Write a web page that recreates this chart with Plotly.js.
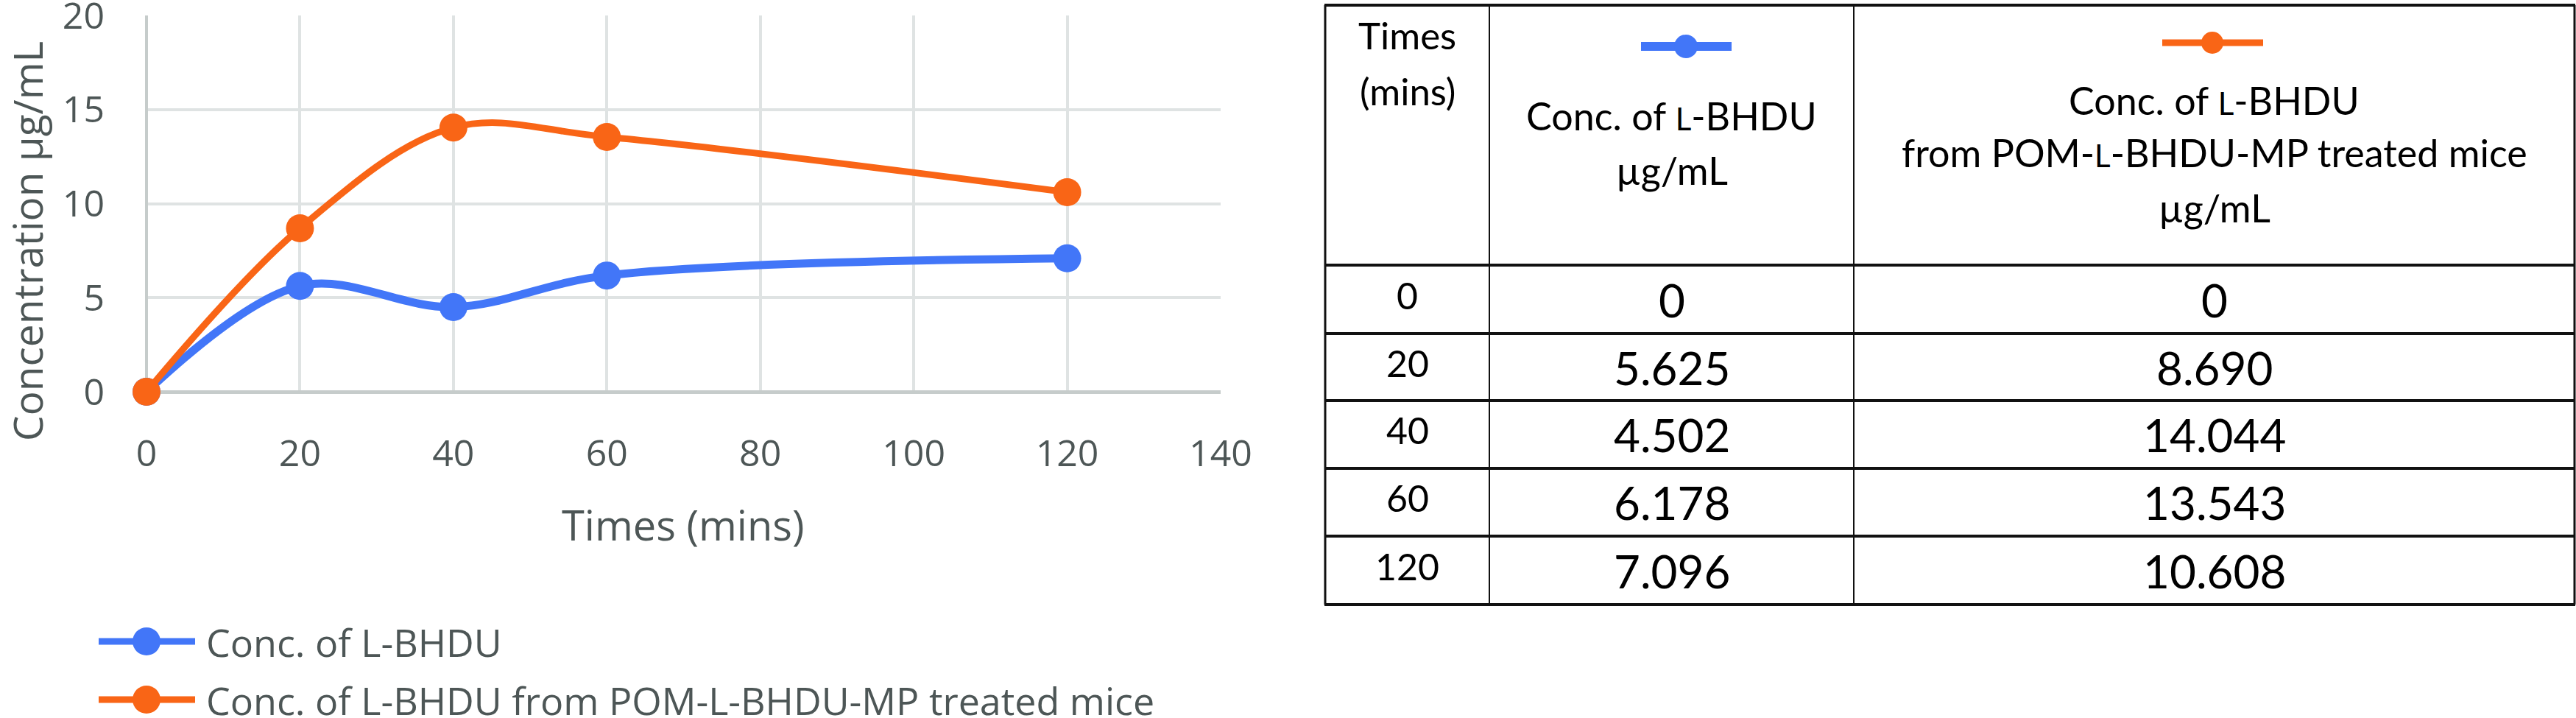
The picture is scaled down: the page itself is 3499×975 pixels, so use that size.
<!DOCTYPE html>
<html><head><meta charset="utf-8">
<script src="https://cdn.plot.ly/plotly-3.0.1.min.js"></script>
<style>html,body{margin:0;padding:0;background:#fff;}#chart{width:3499px;height:975px;}</style>
</head><body><div id="chart"></div>
<script>
// ---- data ----
const times = [0, 20, 40, 60, 120];
const concLBHDU = [0, 5.625, 4.502, 6.178, 7.096];
const concPOM = [0, 8.690, 14.044, 13.543, 10.608];
const seriesNames = ["Conc. of L-BHDU", "Conc. of L-BHDU from POM-L-BHDU-MP treated mice"];
const xTickVals = [0, 20, 40, 60, 80, 100, 120, 140];
const yTickVals = [0, 5, 10, 15, 20];
const xTitle = "Times (mins)";
const yTitle = "Concentration µg/mL";
const tableHeadTimes = ["Times", "(mins)"];
const smallL = '<span style="font-size:42px">L</span>';
const tableHeadCol2 = ["Conc. of " + smallL + "-BHDU", "µg/mL"];
const tableHeadCol3 = ["Conc. of " + smallL + "-BHDU", "from POM-" + smallL + "-BHDU-MP treated mice", "µg/mL"];

// ---- layout helpers ----
const W = 3499, H = 975;
const px = x => x / W;
const py = y => 1 - y / H;
const BLUE = '#4276F8', ORANGE = '#F96516', GREY = '#4d5656';
const fmt = v => v === 0 ? '0' : v.toFixed(3);

const traces = [
  {x: times, y: concLBHDU, name: seriesNames[0], type: 'scatter', mode: 'lines+markers',
   line: {color: BLUE, width: 11, shape: 'spline', smoothing: 1}, marker: {color: BLUE, size: 38}, cliponaxis: false},
  {x: times, y: concPOM, name: seriesNames[1], type: 'scatter', mode: 'lines+markers',
   line: {color: ORANGE, width: 9, shape: 'spline', smoothing: 1}, marker: {color: ORANGE, size: 38}, cliponaxis: false}
];

const shapes = [];
const annotations = [];

// axis titles
annotations.push({xref: 'paper', yref: 'paper', x: px(928), y: py(712), text: xTitle, showarrow: false,
  xanchor: 'center', yanchor: 'middle', font: {family: 'Open Sans', size: 56, color: GREY}});
annotations.push({xref: 'paper', yref: 'paper', x: px(36), y: py(328), text: yTitle, showarrow: false, textangle: -90,
  xanchor: 'center', yanchor: 'middle', font: {family: 'Open Sans', size: 55, color: GREY}});

// custom legend
const legY = [871, 950];
const legCol = [BLUE, ORANGE];
for (let i = 0; i < 2; i++) {
  shapes.push({type: 'line', xref: 'paper', yref: 'paper', x0: px(134), x1: px(265), y0: py(legY[i]), y1: py(legY[i]),
    line: {color: legCol[i], width: 9}});
  shapes.push({type: 'circle', xref: 'paper', yref: 'paper', x0: px(199 - 19), x1: px(199 + 19), y0: py(legY[i] + 19), y1: py(legY[i] - 19),
    fillcolor: legCol[i], line: {width: 0}});
  annotations.push({xref: 'paper', yref: 'paper', x: px(278), y: py(legY[i]), text: seriesNames[i], showarrow: false,
    xanchor: 'left', yanchor: 'middle', font: {family: 'Open Sans', size: 52, color: GREY}});
}

// table grid
const colX = [1800, 2023, 2518, 3497];
const rowY = [7, 360, 453, 544, 636, 728, 821];
colX.forEach((x, i) => shapes.push({type: 'line', xref: 'paper', yref: 'paper', x0: px(x), x1: px(x), y0: py(rowY[0]), y1: py(rowY[rowY.length - 1]),
  line: {color: '#111', width: (i === 0 || i === colX.length - 1) ? 3 : 2}}));
rowY.forEach(y => shapes.push({type: 'line', xref: 'paper', yref: 'paper', x0: px(colX[0] - 1), x1: px(colX[3] + 1), y0: py(y), y1: py(y),
  line: {color: '#111', width: 4}}));

const TF = 'Lato';
const c1 = (colX[0] + colX[1]) / 2, c2 = (colX[1] + colX[2]) / 2, c3 = (colX[2] + colX[3]) / 2;
// header col 1
[47, 123].forEach((y, i) => annotations.push({xref: 'paper', yref: 'paper', x: px(c1), y: py(y), text: tableHeadTimes[i], showarrow: false,
  xanchor: 'center', yanchor: 'middle', font: {family: TF, size: 51, color: '#000'}}));
// header col 2
[157, 231].forEach((y, i) => annotations.push({xref: 'paper', yref: 'paper', x: px(c2), y: py(y), text: tableHeadCol2[i], showarrow: false,
  xanchor: 'center', yanchor: 'middle', font: {family: TF, size: 52, color: '#000'}}));
// header col 3
[136, 207, 282].forEach((y, i) => annotations.push({xref: 'paper', yref: 'paper', x: px(c3), y: py(y), text: tableHeadCol3[i], showarrow: false,
  xanchor: 'center', yanchor: 'middle', font: {family: TF, size: 52, color: '#000'}}));
// header symbols
shapes.push({type: 'line', xref: 'paper', yref: 'paper', x0: px(2229), x1: px(2352), y0: py(63), y1: py(63), line: {color: BLUE, width: 12}});
shapes.push({type: 'circle', xref: 'paper', yref: 'paper', x0: px(2290 - 16), x1: px(2290 + 16), y0: py(63 + 16), y1: py(63 - 16), fillcolor: BLUE, line: {width: 0}});
shapes.push({type: 'line', xref: 'paper', yref: 'paper', x0: px(2937), x1: px(3074), y0: py(58), y1: py(58), line: {color: ORANGE, width: 9}});
shapes.push({type: 'circle', xref: 'paper', yref: 'paper', x0: px(3005 - 15), x1: px(3005 + 15), y0: py(58 + 15), y1: py(58 - 15), fillcolor: ORANGE, line: {width: 0}});

// table body
for (let r = 0; r < times.length; r++) {
  const yc = (rowY[r + 1] + rowY[r + 2]) / 2;
  annotations.push({xref: 'paper', yref: 'paper', x: px(c1), y: py(yc - 6), text: String(times[r]), showarrow: false,
    xanchor: 'center', yanchor: 'middle', font: {family: TF, size: 50, color: '#000'}});
  annotations.push({xref: 'paper', yref: 'paper', x: px(c2), y: py(yc), text: fmt(concLBHDU[r]), showarrow: false,
    xanchor: 'center', yanchor: 'middle', font: {family: TF, size: 62, color: '#000'}});
  annotations.push({xref: 'paper', yref: 'paper', x: px(c3), y: py(yc), text: fmt(concPOM[r]), showarrow: false,
    xanchor: 'center', yanchor: 'middle', font: {family: TF, size: 62, color: '#000'}});
}

const layout = {
  width: W, height: H,
  margin: {l: 0, r: 0, t: 0, b: 0, pad: 0},
  paper_bgcolor: '#fff', plot_bgcolor: '#fff',
  showlegend: false,
  xaxis: {domain: [px(199), px(1658)], range: [0, 140], tickvals: xTickVals, showgrid: true, gridcolor: '#dfe3e3', gridwidth: 4,
    zeroline: true, zerolinecolor: '#c6cccb', zerolinewidth: 4, showline: false, ticks: '', ticklabelstandoff: 50,
    ticklabeloverflow: 'allow', tickfont: {family: 'Open Sans', size: 50, color: GREY}, fixedrange: true},
  yaxis: {domain: [py(532), py(21)], range: [0, 20], tickvals: yTickVals, showgrid: true, gridcolor: '#dfe3e3', gridwidth: 4,
    zeroline: true, zerolinecolor: '#c6cccb', zerolinewidth: 5, showline: false, ticks: '', ticklabelstandoff: 56,
    ticklabeloverflow: 'allow', tickfont: {family: 'Open Sans', size: 50, color: GREY}, fixedrange: true},
  shapes: shapes,
  annotations: annotations
};

Plotly.newPlot('chart', traces, layout, {staticPlot: true, displayModeBar: false});
</script></body></html>
